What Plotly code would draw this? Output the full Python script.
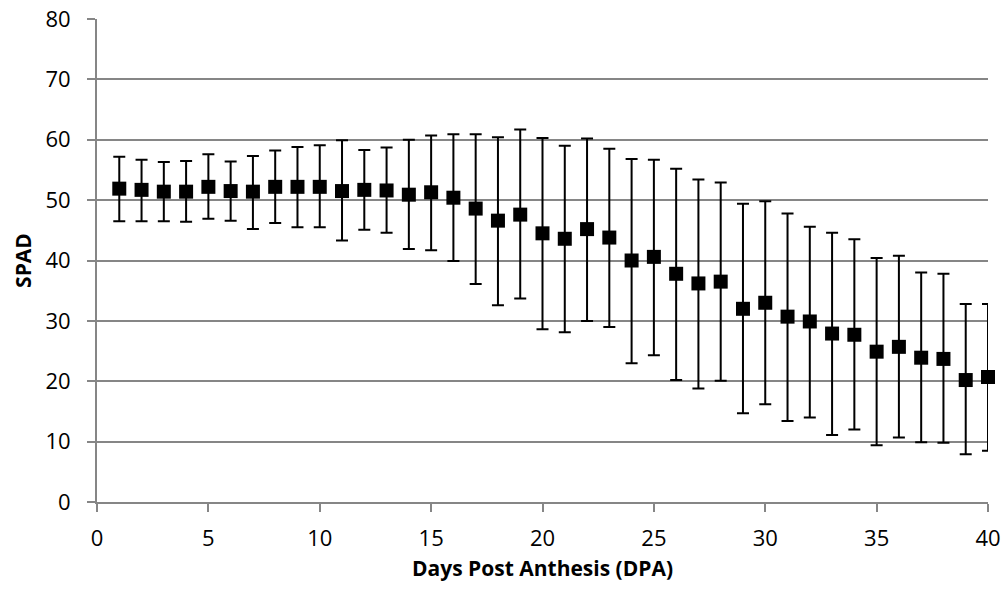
import plotly.graph_objects as go

days = list(range(1, 41))
spad_mean = [51.9, 51.7, 51.4, 51.4, 52.2, 51.5, 51.4, 52.2, 52.2, 52.2,
             51.5, 51.7, 51.6, 50.9, 51.3, 50.4, 48.6, 46.6, 47.6, 44.5,
             43.6, 45.2, 43.8, 40.0, 40.6, 37.8, 36.2, 36.5, 32.0, 33.0,
             30.7, 29.9, 27.9, 27.7, 24.9, 25.7, 23.9, 23.7, 20.2, 20.7]
spad_upper = [57.2, 56.7, 56.3, 56.5, 57.6, 56.4, 57.3, 58.2, 58.8, 59.1,
              59.9, 58.3, 58.7, 60.0, 60.7, 60.9, 60.9, 60.4, 61.7, 60.3,
              59.0, 60.2, 58.5, 56.8, 56.7, 55.2, 53.4, 52.9, 49.4, 49.8,
              47.8, 45.6, 44.6, 43.5, 40.4, 40.8, 38.0, 37.8, 32.8, 32.8]
spad_lower = [46.5, 46.5, 46.5, 46.4, 46.9, 46.6, 45.2, 46.2, 45.5, 45.5,
              43.3, 45.1, 44.6, 41.9, 41.7, 39.9, 36.1, 32.6, 33.7, 28.6,
              28.1, 30.0, 29.0, 23.0, 24.3, 20.2, 18.8, 20.1, 14.7, 16.2,
              13.4, 14.0, 11.1, 12.0, 9.4, 10.7, 9.9, 9.8, 7.9, 8.5]

err_plus = [u - m for u, m in zip(spad_upper, spad_mean)]
err_minus = [m - l for m, l in zip(spad_mean, spad_lower)]

fig = go.Figure()
fig.add_trace(go.Scatter(
    x=days, y=spad_mean, mode="markers", cliponaxis=False,
    marker=dict(symbol="square", size=14, color="black"),
    error_y=dict(type="data", symmetric=False, array=err_plus, arrayminus=err_minus,
                 color="black", thickness=2, width=6),
    showlegend=False,
))

font_family = "Open Sans, Liberation Sans, sans-serif"
fig.update_layout(
    width=1007, height=594,
    margin=dict(l=97, r=19, t=19, b=92, autoexpand=False),
    paper_bgcolor="white", plot_bgcolor="white",
    font=dict(family=font_family, size=22, color="black"),
)
fig.update_xaxes(
    range=[0, 40], tickvals=[0, 5, 10, 15, 20, 25, 30, 35, 40],
    showgrid=False, zeroline=False, automargin=False,
    showline=True, linecolor="#868686", linewidth=2,
    ticks="outside", ticklen=8, tickcolor="#868686", tickwidth=2,
    tickfont=dict(size=22), ticklabelstandoff=8,
    title=dict(text="<b>Days Post Anthesis (DPA)</b>", font=dict(size=21), standoff=10),
)
fig.update_yaxes(
    range=[0, 80], tickvals=[0, 10, 20, 30, 40, 50, 60, 70, 80],
    showgrid=True, gridcolor="#868686", gridwidth=2, zeroline=False, automargin=False,
    showline=True, linecolor="#868686", linewidth=2,
    ticks="outside", ticklen=8, tickcolor="#868686", tickwidth=2,
    tickfont=dict(size=22), ticklabelstandoff=12,
    title=dict(text="<b>SPAD</b>", font=dict(size=21), standoff=8),
)
fig.write_html("out.html")
